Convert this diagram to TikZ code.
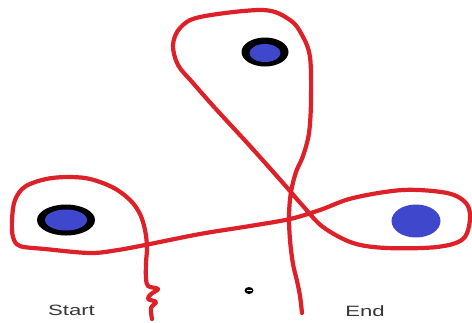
\documentclass[tikz,border=0pt]{standalone}
\usepackage{fontspec}
\setmainfont{Liberation Sans}
\usetikzlibrary{shapes.geometric}
\definecolor{pathred}{RGB}{222,32,40}
\definecolor{dotblue}{RGB}{63,72,204}
\definecolor{labelgray}{RGB}{55,55,55}
\tikzset{
  route/.style={draw=pathred, line width=4.2bp, line cap=round, line join=round},
  outerdot/.style={ellipse, fill=black, inner sep=0pt},
  innerdot/.style={ellipse, fill=dotblue, inner sep=0pt},
  lbl/.style={text=labelgray, font=\fontsize{15}{18}\selectfont, xscale=1.48, inner sep=0pt}
}
\begin{document}
\begin{tikzpicture}[x=1bp,y=-1bp]
\useasboundingbox (0,0) rectangle (472,322);
\fill[white] (0,0) rectangle (472,322);
% dots
\node[outerdot, minimum width=58bp, minimum height=31bp] (startdot) at (66,220) {};
\node[innerdot, minimum width=42bp, minimum height=21bp] (startdotin) at (66,220) {};
\node[outerdot, minimum width=47bp, minimum height=29bp] (topdot) at (265,52) {};
\node[innerdot, minimum width=31bp, minimum height=18bp] (topdotin) at (265,53) {};
\node[innerdot, minimum width=49bp, minimum height=33bp] (enddot) at (416,221) {};
% route
\draw[route] plot[smooth, tension=0.55] coordinates {
 (152,319) (151,308) (156,302) (148,299) (151,294) (158,289) (148,286)
 (146,278) (146,263) (147,247) (145,230) (140,214) (130,200) (112,187)
 (85,178) (52,178) (26,186) (15,200) (12,220) (13,237) (20,246) (45,249)
 (90,253) (118,250) (145,245) (200,234) (250,226) (290,219) (320,210)
 (353,198) (403,190) (447,193) (466,203) (470,219) (463,239) (437,247)
 (387,248) (353,243) (323,227) (303,206) (283,183) (250,146) (215,108)
 (193,83) (178,65) (173,45) (180,28) (200,17) (263,10) (290,20) (302,35)
 (310,57) (311,100) (309,133) (303,156) (296,172) (291,192) (289,215)
 (290,240) (293,264) (297,281) (300,296) (302,313)};
% small mark
\node[ellipse, fill=black, minimum width=9bp, minimum height=7bp, inner sep=0pt] (mark) at (249,290.5) {};
\draw[white, line width=1bp] ([xshift=-2.5bp]mark.center) -- ([xshift=2.5bp]mark.center);
% labels
\node[lbl] (start) at (71.5,310) {Start};
\node[lbl] (end) at (365,311) {End};
\end{tikzpicture}
\end{document}
